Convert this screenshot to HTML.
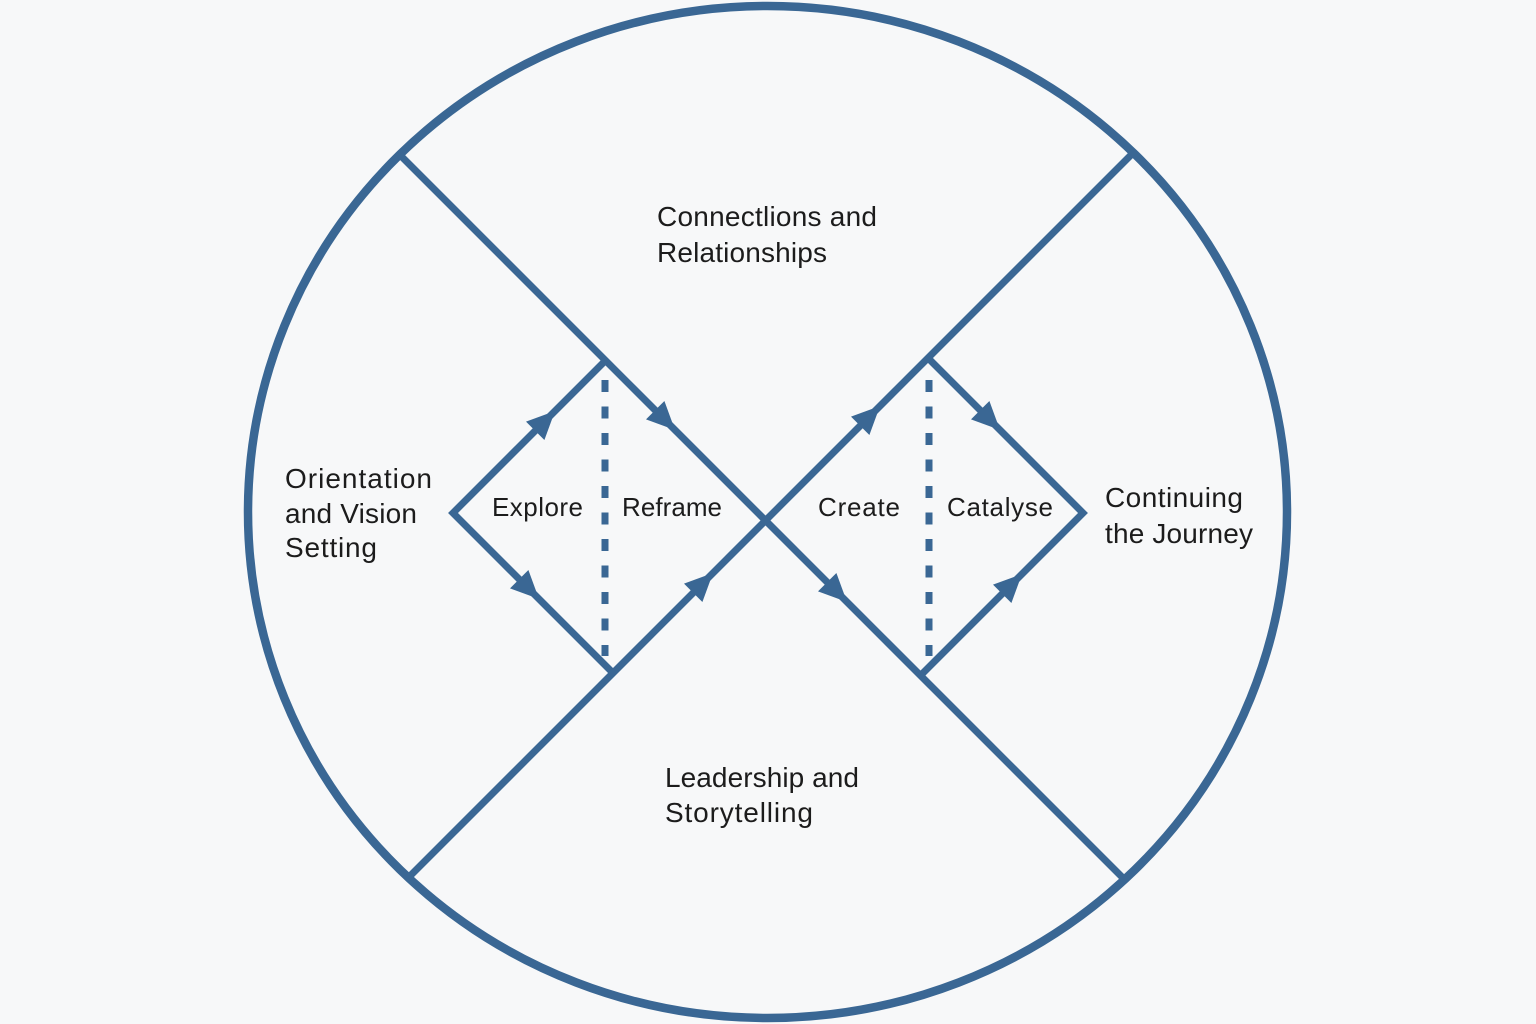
<!DOCTYPE html>
<html>
<head>
<meta charset="utf-8">
<style>
  html,body{margin:0;padding:0;background:#f7f8f9;}
  svg{display:block;}
  text{font-family:"Liberation Sans","DejaVu Sans",sans-serif;fill:#1c1c1c;}
</style>
</head>
<body>
<svg width="1536" height="1024" viewBox="0 0 1536 1024" xmlns="http://www.w3.org/2000/svg">
  <rect width="1536" height="1024" fill="#f7f8f9"/>
  <g stroke="#3a6794" fill="none" stroke-linecap="butt" stroke-linejoin="miter">
    <ellipse cx="767.5" cy="512" rx="519.5" ry="506" stroke-width="8.5"/>
    <line x1="400" y1="155" x2="1123" y2="878" stroke-width="7"/>
    <line x1="1131" y1="155" x2="408" y2="878" stroke-width="7"/>
    <polyline points="605.5,360.5 453,513 613,673" stroke-width="7"/>
    <polyline points="928,358 1083,513 920.5,675.5" stroke-width="7"/>
    <line x1="605" y1="380" x2="605" y2="656" stroke-width="7" stroke-dasharray="12,14.5"/>
    <line x1="929" y1="380" x2="929" y2="656" stroke-width="7" stroke-dasharray="12,14.5"/>
  </g>
  <g fill="#3a6794">
    <polygon points="0,0 -28,-13 -28,13" transform="translate(555,411) rotate(-45)"/>
    <polygon points="0,0 -28,-13 -28,13" transform="translate(675,430) rotate(45)"/>
    <polygon points="0,0 -28,-13 -28,13" transform="translate(539,599) rotate(45)"/>
    <polygon points="0,0 -28,-13 -28,13" transform="translate(713,573) rotate(-45)"/>
    <polygon points="0,0 -28,-13 -28,13" transform="translate(880,406) rotate(-45)"/>
    <polygon points="0,0 -28,-13 -28,13" transform="translate(1000,430) rotate(45)"/>
    <polygon points="0,0 -28,-13 -28,13" transform="translate(847,602) rotate(45)"/>
    <polygon points="0,0 -28,-13 -28,13" transform="translate(1022,574) rotate(-45)"/>
  </g>
  <g font-size="28">
    <text x="657" y="226" textLength="220" lengthAdjust="spacing">Connectlions and</text>
    <text x="657" y="262" textLength="170" lengthAdjust="spacing">Relationships</text>
    <text x="665" y="787" textLength="194" lengthAdjust="spacing">Leadership and</text>
    <text x="665" y="822" textLength="148" lengthAdjust="spacing">Storytelling</text>
    <text x="285" y="488" textLength="147" lengthAdjust="spacing">Orientation</text>
    <text x="285" y="523" textLength="132" lengthAdjust="spacing">and Vision</text>
    <text x="285" y="557" textLength="92" lengthAdjust="spacing">Setting</text>
    <text x="1105" y="507" textLength="138" lengthAdjust="spacing">Continuing</text>
    <text x="1105" y="543" textLength="148" lengthAdjust="spacing">the Journey</text>
  </g>
  <g font-size="26">
    <text x="492" y="516" textLength="91" lengthAdjust="spacing">Explore</text>
    <text x="622" y="516" textLength="100" lengthAdjust="spacing">Reframe</text>
    <text x="818" y="516" textLength="82" lengthAdjust="spacing">Create</text>
    <text x="947" y="516" textLength="106" lengthAdjust="spacing">Catalyse</text>
  </g>
</svg>
</body>
</html>
